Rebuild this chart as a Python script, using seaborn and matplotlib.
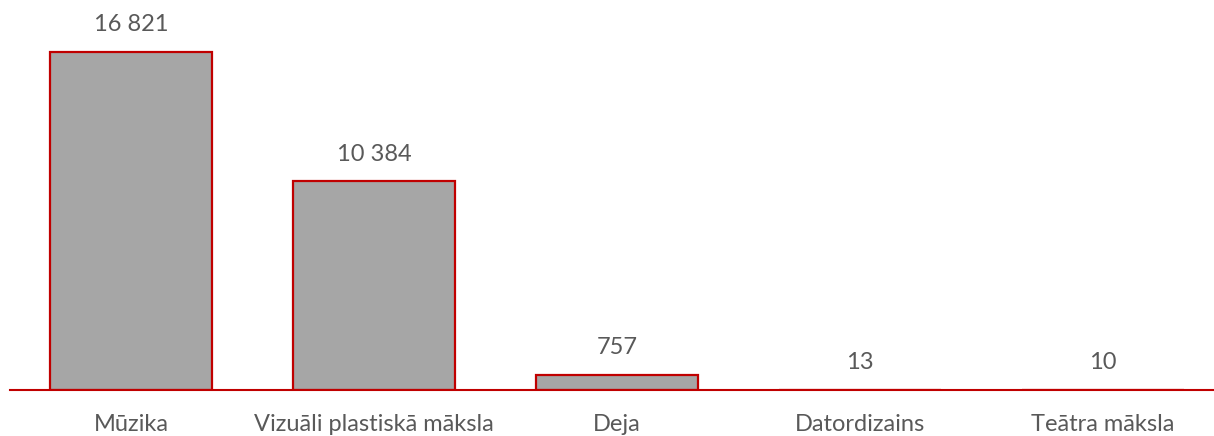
import matplotlib.pyplot as plt
import pandas as pd
import seaborn as sns

categories = ["Mūzika", "Vizuāli plastiskā māksla", "Deja", "Datordizains", "Teātra māksla"]
values = [16821, 10384, 757, 13, 10]

RED = "#c00000"
GRAY = "#a6a6a6"
TEXT = "#595959"


def fmt(n):
    return f"{n:,}".replace(",", " ")


sns.set_theme(style="white")
plt.rcParams["font.family"] = ["Lato", "DejaVu Sans"]

df = pd.DataFrame({"category": categories, "value": values})

fig = plt.figure(figsize=(12.14, 4.36), dpi=100)
ax = fig.add_axes([9.5 / 1214, 46 / 436, 1215 / 1214, 390 / 436])

sns.barplot(data=df, x="category", y="value", color=GRAY, saturation=1,
            width=0.667, edgecolor=RED, linewidth=1.6, ax=ax)

ax.set_ylim(0, 19400)
ax.set_xlim(-0.5, len(categories) - 0.5)
for side in ["top", "right", "left"]:
    ax.spines[side].set_visible(False)
ax.spines["bottom"].set_color(RED)
ax.spines["bottom"].set_linewidth(1.5)
ax.set_yticks([])
ax.set_xlabel("")
ax.set_ylabel("")
ax.tick_params(axis="x", length=0, pad=17, labelsize=17, labelcolor=TEXT)

for i, v in enumerate(values):
    ax.annotate(fmt(v), (i, v), xytext=(0, 12), textcoords="offset points",
                ha="center", va="bottom", fontsize=17, color=TEXT,
                annotation_clip=False)

fig.savefig("out.png", dpi=100)
